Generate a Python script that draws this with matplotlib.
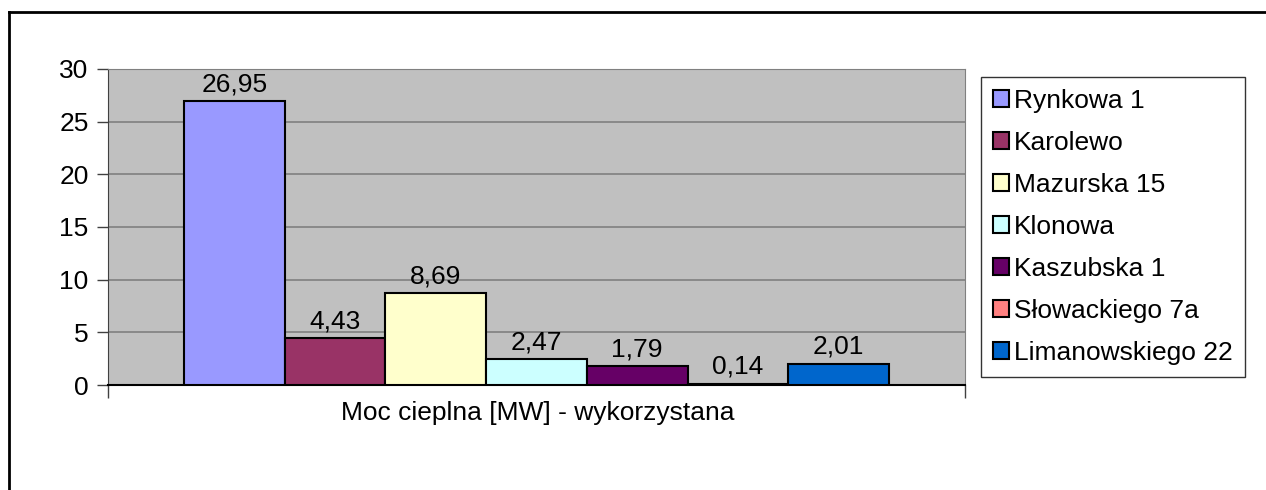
import matplotlib
matplotlib.use("Agg")
import matplotlib.pyplot as plt
from matplotlib.lines import Line2D
import numpy as np

plt.rcParams['font.family'] = ['Liberation Sans', 'DejaVu Sans']

names = ["Rynkowa 1", "Karolewo", "Mazurska 15", "Klonowa", "Kaszubska 1",
         "Słowackiego 7a", "Limanowskiego 22"]
values = [26.95, 4.43, 8.69, 2.47, 1.79, 0.14, 2.01]
colors = ["#9999FF", "#993366", "#FFFFCC", "#CCFFFF", "#660066", "#FF8080", "#0066CC"]
category = "Moc cieplna [MW] - wykorzystana"

W, H = 1266, 490
fig = plt.figure(figsize=(W / 100, H / 100), dpi=100)
ax = fig.add_axes([108 / W, 1 - 385 / H, (965 - 108) / W, (385 - 69) / H])
ax.set_facecolor("#C0C0C0")

fs = 19
x = np.arange(len(values))
for i, (n, v, c) in enumerate(zip(names, values, colors)):
    ax.bar(x[i], v, width=1.0, color=c, edgecolor="black", linewidth=1.5,
           label=n, zorder=3)
    ax.annotate(f"{v:.2f}".replace(".", ","), (x[i], v), xytext=(0, 3.5),
                textcoords="offset points", ha="center", va="bottom",
                fontsize=fs, zorder=4)

ax.set_xlim(-1.255, 7.255)
ax.set_ylim(0, 30)
ax.set_yticks([0, 5, 10, 15, 20, 25, 30])
ax.yaxis.grid(True, color="#808080", linewidth=1.2, zorder=1)
ax.set_axisbelow(True)
ax.set_xticks([-1.255, 7.255])
ax.set_xticklabels([])
ax.tick_params(axis="x", length=9, width=1, color="#404040")
ax.tick_params(axis="y", length=8, width=1, labelsize=fs, color="#404040", pad=6)
ax.spines["left"].set_color("#404040")
ax.spines["bottom"].set_color("black")
ax.spines["bottom"].set_linewidth(1.5)
ax.spines["top"].set_color("#808080")
ax.spines["right"].set_color("#808080")

fig.text(538 / W, 1 - 413 / H, category, ha="center", va="center", fontsize=fs)

leg = fig.legend(loc="center",
                 bbox_to_anchor=(986 / W, 1 - 375 / H, (1240 - 986) / W, (375 - 79) / H),
                 fontsize=fs, frameon=True, fancybox=False, edgecolor="black",
                 handlelength=0.6, handleheight=0.6, handletextpad=0.2,
                 labelspacing=0.68, borderpad=0.45, borderaxespad=0)
leg.get_frame().set_linewidth(1.0)

# outer chart frame (left and top edges visible)
fig.add_artist(Line2D([9 / W, 9 / W], [0, 1 - 12 / H], color="black", linewidth=2,
                      transform=fig.transFigure))
fig.add_artist(Line2D([9 / W, 1], [1 - 12 / H, 1 - 12 / H], color="black", linewidth=2,
                      transform=fig.transFigure))

fig.savefig("out.png", dpi=100)
